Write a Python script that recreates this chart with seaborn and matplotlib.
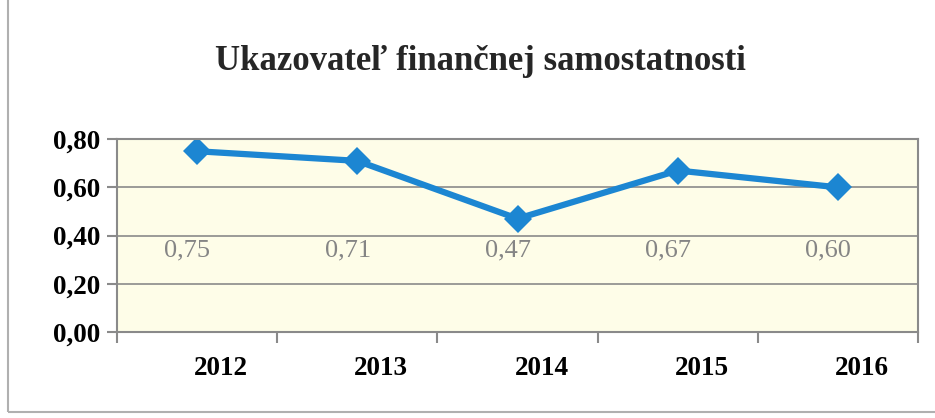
import matplotlib
matplotlib.use("Agg")
import matplotlib.pyplot as plt
import matplotlib.transforms as mtransforms
from matplotlib.patches import Rectangle
import pandas as pd
import seaborn as sns

# data
years = ["2012", "2013", "2014", "2015", "2016"]
values = [0.75, 0.71, 0.47, 0.67, 0.60]
labels = ["0,75", "0,71", "0,47", "0,67", "0,60"]
yticks = [0.0, 0.2, 0.4, 0.6, 0.8]
ytick_labels = ["0,00", "0,20", "0,40", "0,60", "0,80"]

df = pd.DataFrame({"year": years, "value": values})

plt.rcParams["font.family"] = ["Liberation Serif", "DejaVu Serif"]

fig = plt.figure(figsize=(9.35, 4.18), dpi=100)
ax = fig.add_axes([0.125, 0.206, 0.857, 0.461])
ax.set_facecolor("#fefde8")

sns.lineplot(data=df, x="year", y="value", ax=ax, color="#1c86d2",
             linewidth=4.5, marker="D", markersize=14, markeredgewidth=0,
             sort=False)

ax.set_xlim(-0.5, 4.5)
ax.set_ylim(0, 0.8)
ax.set_xlabel("")
ax.set_ylabel("")

# gridlines + spines
for y in yticks[1:-1]:
    ax.axhline(y, color="#8a8a8a", linewidth=1.2, zorder=0)
for s in ax.spines.values():
    s.set_color("#8a8a8a")
    s.set_linewidth(1.5)

# y axis
ax.set_yticks(yticks)
ax.set_yticklabels(ytick_labels, fontsize=19.5, fontweight="bold")
ax.tick_params(axis="y", length=7, width=1.5, color="#8a8a8a", pad=5)

# x axis: tick marks at category boundaries, labels in between
ax.set_xticks([i - 0.5 for i in range(len(years) + 1)])
ax.set_xticklabels([])
ax.tick_params(axis="x", which="major", length=8, width=1.5, color="#8a8a8a")
ax.set_xticks(range(len(years)), minor=True)
ax.set_xticklabels(years, minor=True, fontsize=19.5, fontweight="bold")
ax.tick_params(axis="x", which="minor", length=0, pad=17)
shift = mtransforms.ScaledTranslation(0.24, 0, fig.dpi_scale_trans)
for lab in ax.get_xticklabels(minor=True):
    lab.set_transform(lab.get_transform() + shift)

# data labels
for i, lab in enumerate(labels):
    ax.text(i - 0.06, 0.34, lab, ha="center", va="center", fontsize=19,
            color="#858585")

fig.text(0.514, 0.852, "Ukazovateľ finančnej samostatnosti", ha="center",
         va="center", fontsize=25, fontweight="bold", color="#262626")

# chart frame
fig.patches.append(Rectangle((8 / 935, 6 / 418), 1.2, 1.2,
                             transform=fig.transFigure, fill=False,
                             edgecolor="#b0b0b0", linewidth=1.5))

fig.savefig("out.png", dpi=100)
